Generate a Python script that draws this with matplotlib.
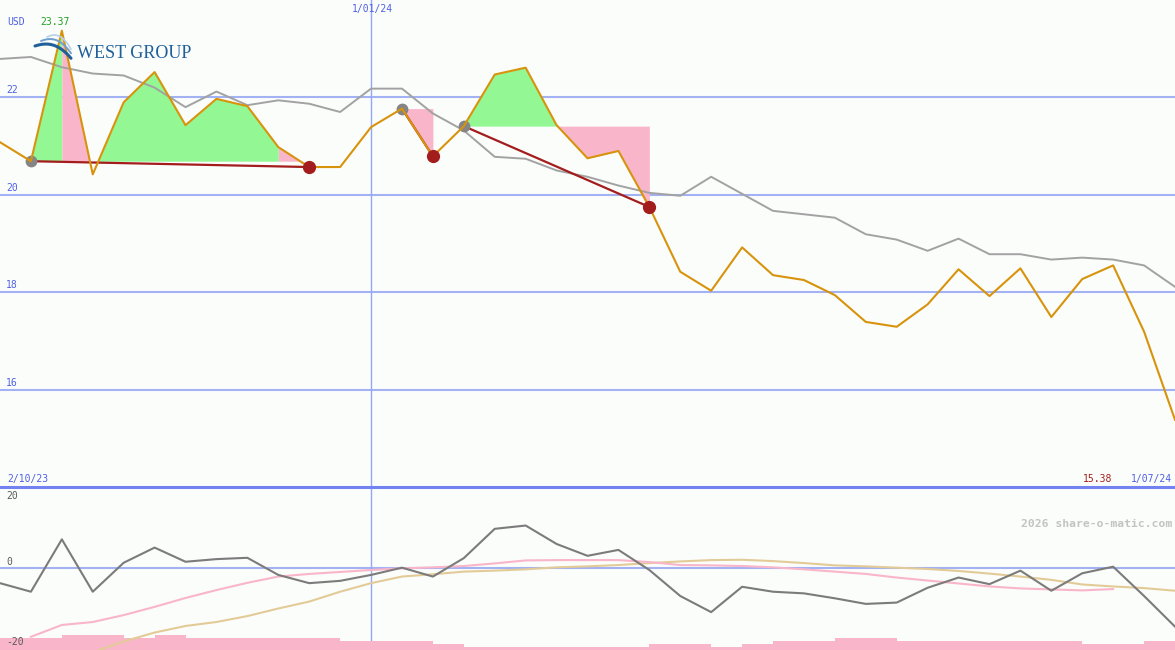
import numpy as np
import pandas as pd
import matplotlib
matplotlib.use("Agg")
from matplotlib import pyplot as plt

# weekly closes, 9 Oct 2023 .. 1 Jul 2024
dates = pd.date_range("2023-10-09", periods=39, freq="7D")

price = [21.08, 20.69, 23.37, 20.42, 21.90, 22.52, 21.43, 21.97, 21.82, 20.98,
         20.57, 20.57, 21.39, 21.77, 20.79, 21.41, 22.47, 22.61, 21.43, 20.75,
         20.90, 19.75, 18.42, 18.03, 18.92, 18.35, 18.25, 17.94, 17.39, 17.29,
         17.75, 18.47, 17.92, 18.49, 17.49, 18.27, 18.55, 17.19, 15.38]

average = [22.79, 22.83, 22.62, 22.49, 22.45, 22.20, 21.80, 22.12, 21.84, 21.94,
           21.87, 21.70, 22.18, 22.18, 21.67, 21.32, 20.78, 20.74, 20.50, 20.37,
           20.19, 20.04, 19.98, 20.37, 20.02, 19.67, 19.60, 19.53, 19.19, 19.08,
           18.85, 19.10, 18.78, 18.78, 18.67, 18.71, 18.67, 18.55, 18.11]

momentum = [-4.7, -7.3, 8.6, -7.3, 1.5, 6.1, 1.8, 2.6, 3.0, -2.2,
            -4.7, -4.0, -2.2, 0.0, -2.7, 2.9, 11.8, 12.8, 7.2, 3.6,
            5.4, -0.7, -8.6, -13.5, -5.8, -7.3, -7.8, -9.3, -11.0, -10.6,
            -6.1, -3.0, -5.0, -0.9, -7.0, -1.7, 0.3, -8.6, -17.9]

mom_fast = [np.nan, -21.0, -17.4, -16.5, -14.4, -11.9, -9.2, -6.8, -4.6, -2.7,
            -1.9, -1.3, -0.7, -0.2, 0.1, 0.5, 1.3, 2.2, 2.3, 2.3,
            2.3, 1.7, 0.8, 0.7, 0.5, 0.1, -0.5, -1.2, -1.9, -3.0,
            -3.9, -4.8, -5.7, -6.3, -6.6, -6.9, -6.5, np.nan, np.nan]

mom_slow = [np.nan, np.nan, np.nan, -25.7, -22.4, -19.7, -17.7, -16.5, -14.7, -12.4,
            -10.3, -7.3, -4.7, -2.7, -2.0, -1.2, -0.9, -0.5, 0.1, 0.4,
            0.8, 1.4, 1.9, 2.3, 2.4, 2.0, 1.4, 0.7, 0.4, 0.0,
            -0.4, -1.0, -1.8, -2.7, -3.7, -5.1, -5.7, -6.2, -7.0]

volume = [4, 4, 5, 5, 4, 5, 4, 4, 4, 4, 4, 3, 3, 3, 2, 1, 1, 1, 1,
          1, 1, 2, 2, 1, 2, 3, 3, 4, 4, 3, 3, 3, 3, 3, 3, 2, 2, 3]

# trend lines: from low (start) to next low (end)
trend_start = [1, 13, 15]
trend_end = [10, 14, 21]
# shaded spans (from index, to index, up/down, trend number)
spans = [(1, 2, "up", 0), (2, 3, "down", 0), (3, 9, "up", 0), (9, 10, "down", 0),
         (13, 14, "down", 1), (15, 18, "up", 2), (18, 21, "down", 2)]

ticks = [16, 18, 20, 22]
osc_ticks = [20, 0, -20]

bg = "#fbfdfb"
blue_txt = "#4f5fe6"
grid_col = "#a3b2f2"
orange = "#d8930c"
green_fill = "#93f893"
pink_fill = "#f9b5ca"
dark_red = "#a31d1d"

W, H = 1175, 650
fig = plt.figure(figsize=(W / 100, H / 100), dpi=100, facecolor=bg)
split = 163 / H

price = np.array(price)
ax = fig.add_axes([0, split, 1, 1 - split])
ax.set_axis_off()
ax.set_xlim(dates[0], dates[-1])
ax.set_ylim(14.0, 24.0)

for t in ticks:
    ax.axhline(t, color=grid_col, lw=1.5, zorder=1)
    ax.text(0.005, t + 0.04, str(t), transform=ax.get_yaxis_transform(),
            color=blue_txt, fontsize=7, family="DejaVu Sans Mono", va="bottom")
ax.axvline(pd.Timestamp("2024-01-01"), color="#94a6f6", lw=1.0, zorder=1)

for a, b, kind, k in spans:
    base = price[trend_start[k]]
    seg = price[a:b + 1]
    side = np.sign(seg.mean() - base)
    ax.fill_between(dates[a:b + 1], seg, base, where=(seg - base) * side >= 0,
                    interpolate=True, color=green_fill if kind == "up" else pink_fill,
                    lw=0, zorder=2)

ax.plot(dates, average, color="#a2a2a2", lw=1.4, zorder=3)
for s, e in zip(trend_start, trend_end):
    ax.plot([dates[s], dates[e]], [price[s], price[e]], color=dark_red, lw=1.6, zorder=4)
ax.plot(dates[trend_start], price[trend_start], "o", color="#858585", ms=7.5, zorder=4)
ax.plot(dates, price, color=orange, lw=1.5, zorder=5)
ax.plot(dates[trend_end], price[trend_end], "o", color=dark_red, ms=8.5, zorder=6)

# oscillator panel
ax2 = fig.add_axes([0, 0, 1, split])
ax2.set_axis_off()
ax2.set_xlim(dates[0], dates[-1])
ax2.set_ylim(-25, 24.5)
ax2.axhline(0, color=grid_col, lw=1.5, zorder=1)
ax2.axvline(pd.Timestamp("2024-01-01"), color="#94a6f6", lw=1.0, zorder=1)
ax2.bar(dates[:-1], np.array(volume) * 0.93, width=7, bottom=-25, align="edge",
        color=pink_fill, lw=0, zorder=2)
ax2.plot(dates, mom_slow, color="#e3cb98", lw=1.5, zorder=3)
ax2.plot(dates, mom_fast, color="#f9b5ca", lw=1.5, zorder=3)
ax2.plot(dates, momentum, color="#7b7b7b", lw=1.5, zorder=4)

# texts and frame in pixel coordinates
ov = fig.add_axes([0, 0, 1, 1])
ov.set_axis_off()
ov.patch.set_alpha(0)
ov.set_xlim(0, W)
ov.set_ylim(H, 0)
ov.plot([0, W], [487, 487], color="#7282f0", lw=2.2)

mono = dict(family="DejaVu Sans Mono", fontsize=7, va="center")
ov.text(7, 22, "USD", color=blue_txt, **mono)
ov.text(40, 22, "23.37", color="#22a022", **mono)
ov.text(372, 9, "1/01/24", color=blue_txt, ha="center", **mono)
ov.text(7, 479, "2/10/23", color=blue_txt, **mono)
ov.text(1112, 479, "15.38", color=dark_red, ha="right", **mono)
ov.text(1172, 479, "1/07/24", color=blue_txt, ha="right", **mono)
ov.text(1172, 524, "2026 share-o-matic.com", color="#c3c3c3", ha="right", va="center",
        family="DejaVu Sans Mono", fontsize=8.2, fontweight="bold")
for t, yy in zip(osc_ticks, [496, 562, 642]):
    ov.text(6, yy, str(t), color="#5a5a5a", **mono)

# logo
ov.text(77, 54, "WEST GROUP", color="#1f5f9a", family="Liberation Serif",
        fontsize=13, va="center")
th = np.linspace(0, 1, 30)
for dx, dy, c, w in [(0, 0, "#1f5f9a", 2.2), (6, -5, "#6f9fcf", 1.4), (12, -9, "#b8d0ea", 1.2)]:
    xs = 35 + dx + (36 - dx) * th
    ys = 46 + dy - 6 * np.sin(np.pi * th * 0.6) + 18 * th ** 2.2
    ov.plot(xs, ys, color=c, lw=w, solid_capstyle="round")

fig.savefig("out.png", dpi=100, facecolor=bg)
